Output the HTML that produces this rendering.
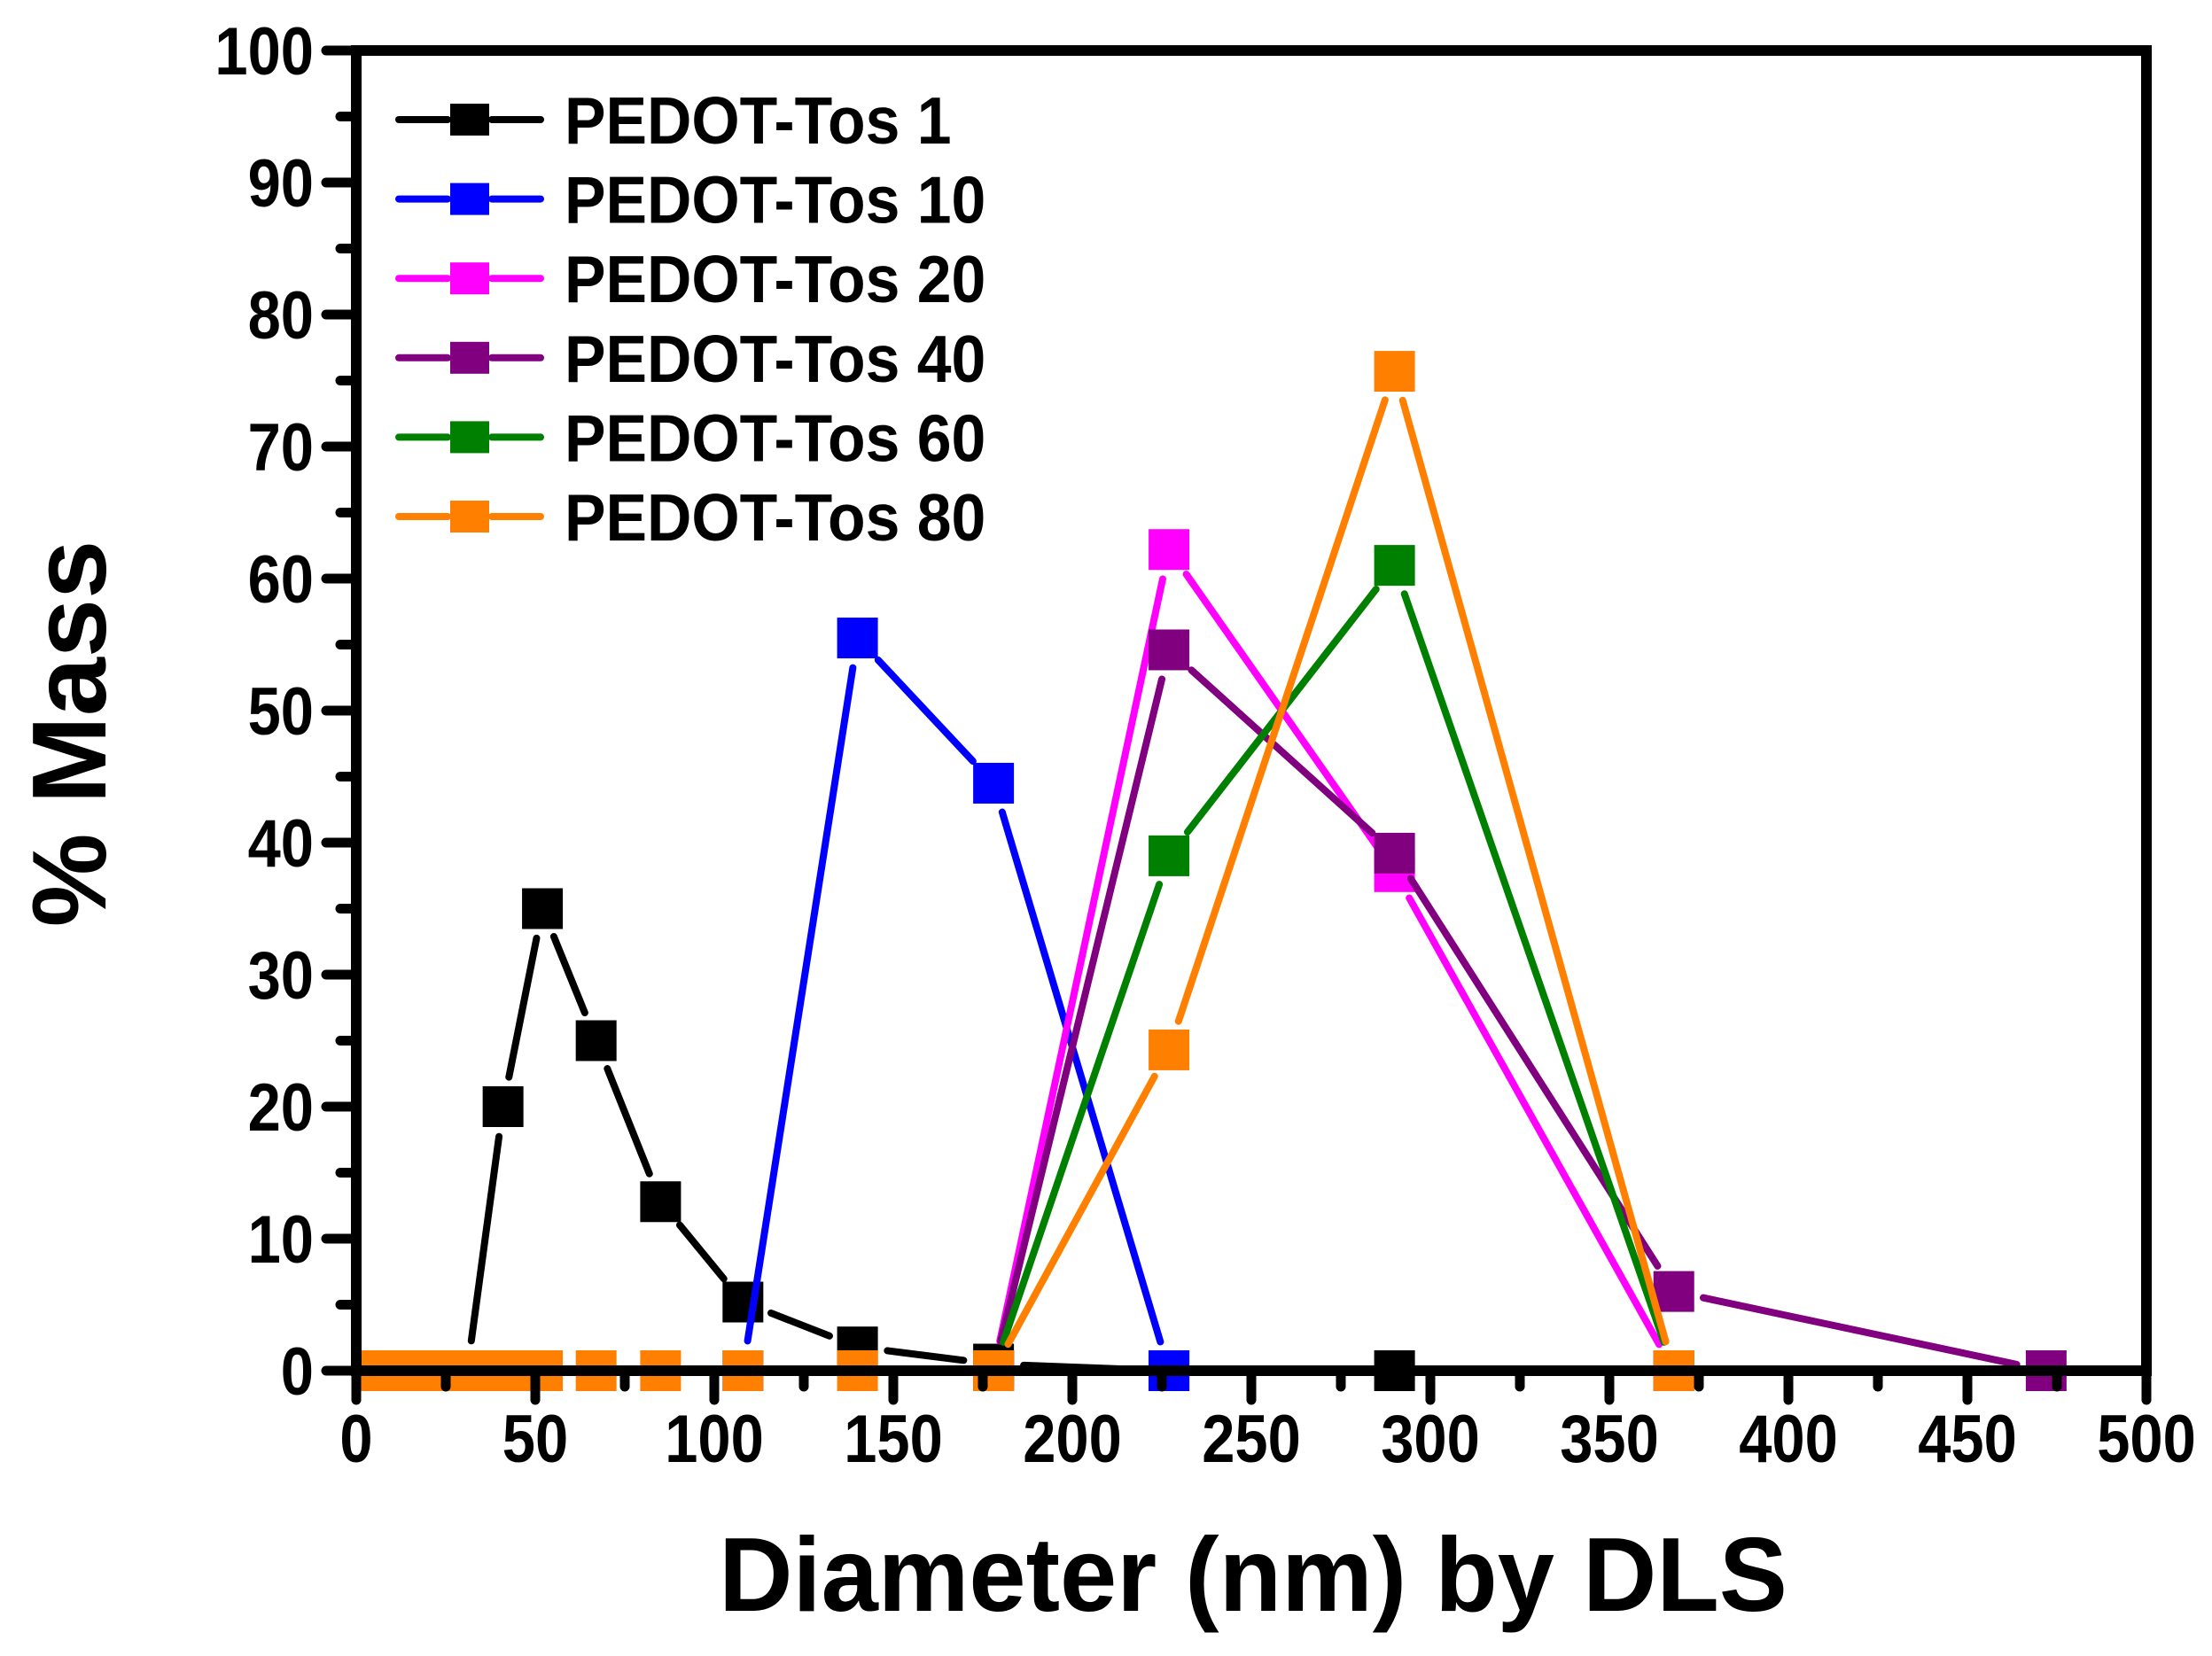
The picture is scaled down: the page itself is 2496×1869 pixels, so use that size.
<!DOCTYPE html>
<html><head><meta charset="utf-8"><style>
html,body{margin:0;padding:0;background:#fff;}
svg{display:block;}
text{font-family:"Liberation Sans",Arial,sans-serif;font-weight:bold;fill:#000;}
</style></head><body>
<svg id="s" width="2496" height="1869" viewBox="0 0 2496 1869" xmlns="http://www.w3.org/2000/svg">
<g id="data"></g>
<g id="axes" stroke="#000" stroke-width="12" stroke-linecap="round" fill="none">
<rect x="402" y="57" width="2020" height="1490" stroke-linecap="butt"/>
</g>
<g id="ticks" stroke="#000" stroke-width="11" stroke-linecap="round"></g>
<g id="labels" font-size="76"></g>
<text transform="translate(1414,1818) scale(0.97,1)" font-size="119" text-anchor="middle">Diameter (nm) by DLS</text>
<text transform="translate(119,828) rotate(-90)" font-size="119" text-anchor="middle">% Mass</text>
<g id="legend"></g>
</svg>
<script>
var NS="http://www.w3.org/2000/svg";
function el(p,t,a,txt){var e=document.createElementNS(NS,t);for(var k in a)e.setAttribute(k,a[k]);if(txt!==undefined)e.textContent=txt;p.appendChild(e);return e;}
var X=function(v){return 402+v*4.04;},Y=function(v){return 1547-v*14.9;};
var ticks=document.getElementById('ticks'),labels=document.getElementById('labels');
for(var v=0;v<=100;v+=5){var y=Y(v),maj=v%10==0;el(ticks,'line',{x1:maj?368:384,y1:y,x2:402,y2:y});
 if(maj)el(labels,'text',{transform:'translate(354,'+(y+27)+') scale(0.88,1)','text-anchor':'end'},String(v));}
for(var v=0;v<=500;v+=25){var x=X(v),maj=v%50==0;el(ticks,'line',{x1:x,y1:1547,x2:x,y2:maj?1580:1565});
 if(maj)el(labels,'text',{transform:'translate('+x+',1650) scale(0.88,1)','text-anchor':'middle'},String(v));}
var zeros=[5.5,10,15,20,25,30,36,41,46];
var bz=[5.5,10,15,20,25,31];
var S=[
 {c:'#000',p:bz.map(function(x){return[x,0]}).concat([[41,20],[52,35],[67,25],[85,12.8],[108,5.2],[140,1.8],[178,0.5],[227,0],[290,0]])},
 {c:'#0000ff',p:[[108,0],[140,55.5],[178,44.5],[227,0]]},
 {c:'#ff00ff',p:[[178,0],[227,62.2],[290,37.8],[368,0]]},
 {c:'#800080',p:[[178,0],[227,54.6],[290,39.2],[368,6],[472,0]]},
 {c:'#008000',p:[[178,0],[227,39],[290,61],[368,0]]},
 {c:'#ff8000',p:zeros.map(function(x){return[x,0]}).concat([[52,0],[67,0],[85,0],[108,0],[140,0],[178,0],[227,24.3],[290,75.7],[368,0]])}
];
var g=document.getElementById('data');
S.forEach(function(s){
 var pts=s.p.map(function(q){return[X(q[0]),Y(q[1])]});
 for(var i=0;i<pts.length-1;i++){var a=pts[i],b=pts[i+1],dx=b[0]-a[0],dy=b[1]-a[1],L=Math.hypot(dx,dy),gap=34;
  if(L>2*gap+4){var ux=dx/L,uy=dy/L;el(g,'line',{x1:a[0]+ux*gap,y1:a[1]+uy*gap,x2:b[0]-ux*gap,y2:b[1]-uy*gap,stroke:s.c,'stroke-width':8,'stroke-linecap':'round'});}}
 pts.forEach(function(q){el(g,'rect',{x:q[0]-23,y:q[1]-23,width:46,height:46,fill:s.c});});
});
var lg=document.getElementById('legend'),names=['PEDOT-Tos 1','PEDOT-Tos 10','PEDOT-Tos 20','PEDOT-Tos 40','PEDOT-Tos 60','PEDOT-Tos 80'];
names.forEach(function(n,i){var y=135+i*89.6,c=S[i].c;
 el(lg,'line',{x1:450,y1:y,x2:505,y2:y,stroke:c,'stroke-width':8,'stroke-linecap':'round'});
 el(lg,'line',{x1:555,y1:y,x2:610,y2:y,stroke:c,'stroke-width':8,'stroke-linecap':'round'});
 el(lg,'rect',{x:508,y:y-18,width:44,height:36,fill:c});
 el(lg,'text',{transform:'translate(637,'+(y+27)+') scale(0.93,1)','font-size':75},n);
});
</script>
</body></html>
